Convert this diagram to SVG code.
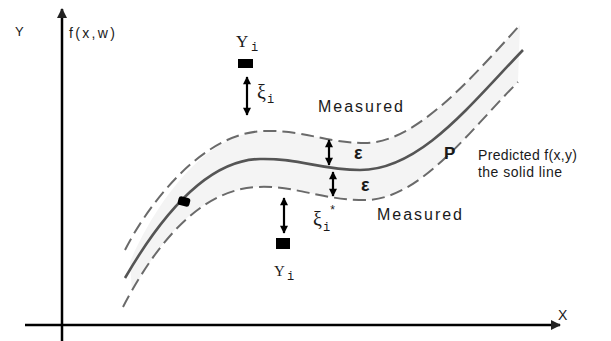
<svg xmlns="http://www.w3.org/2000/svg" width="611" height="341" viewBox="0 0 611 341">
<style>
.sans{font-family:"Liberation Sans",Arial,sans-serif;fill:#1a1a1a}
.mono{font-family:"Liberation Mono","Courier New",monospace;fill:#1a1a1a}
.serif{font-family:"Liberation Serif","Times New Roman",serif;fill:#1a1a1a}
.dash{fill:none;stroke:#6a6a6a;stroke-width:2;stroke-dasharray:13 6}
.solid{fill:none;stroke:#555;stroke-width:2.6}
.arr{stroke:#000;stroke-width:2.2;marker-start:url(#ah);marker-end:url(#ah)}
.axis{stroke:#000;stroke-width:2.5}
</style>
<defs>
<marker id="ah" viewBox="0 0 10 10" refX="9" refY="5" markerWidth="9" markerHeight="8" markerUnits="userSpaceOnUse" orient="auto-start-reverse">
<path d="M0,0 L10,5 L0,10 z" fill="#000"/>
</marker>
<marker id="axh" viewBox="0 0 10 10" refX="9" refY="5" markerWidth="11" markerHeight="10" markerUnits="userSpaceOnUse" orient="auto">
<path d="M0,0 L10,5 L0,10 z" fill="#222"/>
</marker>
</defs>
<rect width="611" height="341" fill="#fff"/>
<g id="band">
<path d="M130,262 C150,215 200,132 265,131 C305,130 325,143 365,143 C415,143 470,80 520,25 L518,82 C470,130 420,200 365,200 C320,200 295,185 257,187 C190,190 150,260 132,292 Z" fill="#f4f4f4"/>
</g>
<g id="axes">
<line class="axis" x1="62" y1="341" x2="62" y2="9" marker-end="url(#axh)"/>
<line class="axis" x1="25" y1="325" x2="560" y2="325" marker-end="url(#axh)"/>
<text class="sans" x="15" y="36" font-size="13">Y</text>
<text class="sans" x="69" y="38" font-size="14" textLength="46" lengthAdjust="spacing">f(x,w)</text>
<text class="sans" x="558" y="320" font-size="14">X</text>
</g>
<g id="curves">
<path id="upper" class="dash" d="M125,250 C145,210 200,132 265,131 C305,130 325,143 365,143 C415,143 470,80 520,25"/>
<path id="predicted" class="solid" d="M125,278 C150,235 200,160 260,159 C300,158 320,170 360,170 C420,170 470,105 523,50"/>
<path id="lower" class="dash" d="M123,307 C145,265 190,190 257,187 C295,185 320,200 365,200 C420,200 470,130 518,82"/>
</g>
<g id="point-top">
<rect x="238" y="59" width="15" height="9" fill="#000"/>
<text class="serif" x="236" y="47" font-size="17">Y</text>
<text class="mono" x="251" y="51" font-size="12">i</text>
</g>
<g id="point-bottom">
<rect x="276" y="238" width="14" height="11" fill="#000"/>
<text class="serif" x="274" y="276" font-size="15">Y</text>
<text class="mono" x="287" y="280" font-size="12">i</text>
</g>
<g id="point-on-curve">
<rect x="178" y="197" width="12" height="9" rx="3" fill="#000" transform="rotate(15 184 201.5)"/>
</g>
<g id="connectors">
<line class="arr" x1="247" y1="77" x2="247" y2="115"/>
<line class="arr" x1="284" y1="198" x2="284" y2="233"/>
<line class="arr" x1="329" y1="140" x2="329" y2="165"/>
<line class="arr" x1="333" y1="172" x2="333" y2="196"/>
</g>
<g id="labels">
<text class="serif" x="257" y="99" font-size="20">ξ</text>
<text class="mono" x="267" y="103" font-size="12">i</text>
<text class="serif" x="313" y="226" font-size="20">ξ</text>
<text class="mono" x="323" y="231" font-size="12">i</text>
<text class="mono" x="329" y="214" font-size="12">*</text>
<text class="sans" x="354" y="159" font-size="18" font-weight="bold">ε</text>
<text class="sans" x="361" y="191" font-size="18" font-weight="bold">ε</text>
<text class="sans" x="318" y="112" font-size="16" textLength="85" lengthAdjust="spacing">Measured</text>
<text class="sans" x="377" y="220" font-size="16" textLength="85" lengthAdjust="spacing">Measured</text>
<text class="sans" x="444" y="159" font-size="17" font-weight="bold">P</text>
<text class="sans" x="478" y="160" font-size="14" textLength="99" lengthAdjust="spacing">Predicted f(x,y)</text>
<text class="sans" x="478" y="177" font-size="14" textLength="84" lengthAdjust="spacing">the solid line</text>
</g>
</svg>
